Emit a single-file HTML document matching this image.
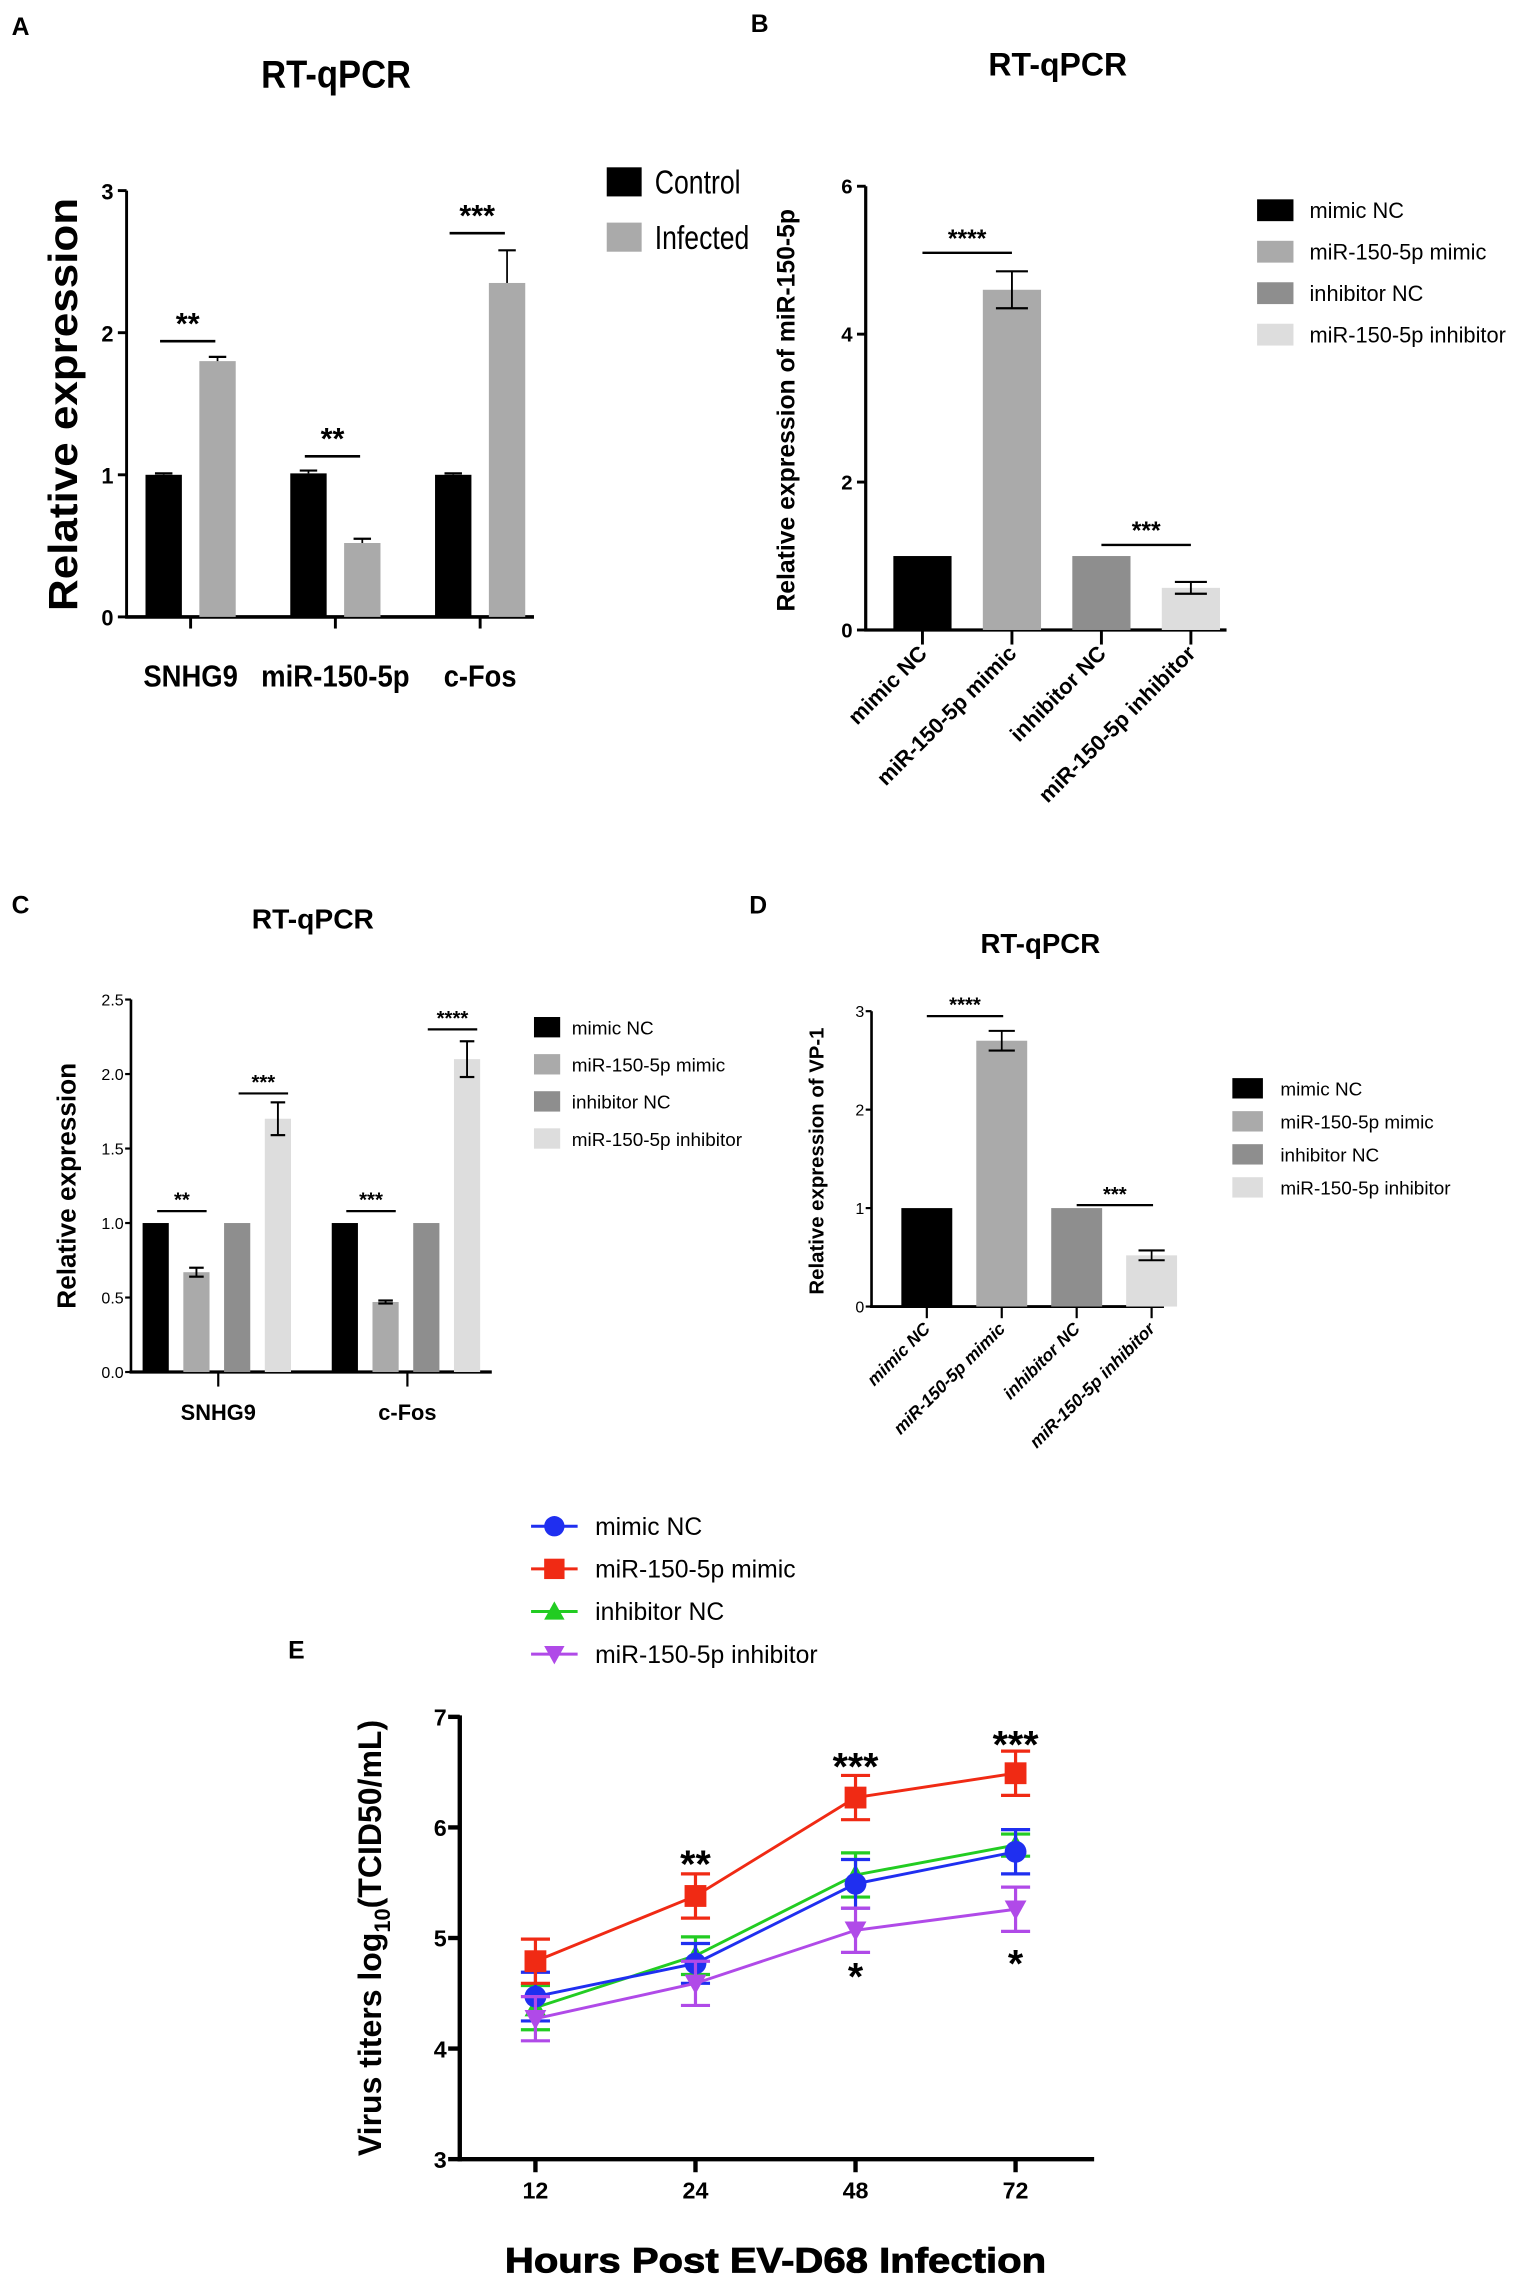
<!DOCTYPE html>
<html><head><meta charset="utf-8">
<style>
html,body{margin:0;padding:0;background:#fff;}
svg{display:block;}
text{font-family:"Liberation Sans",Arial,sans-serif;}
.n{font-family:"Liberation Sans Narrow","Liberation Sans",Arial,sans-serif;}
</style></head>
<body>
<svg id="fig" width="1535" height="2277" viewBox="0 0 1055 1565" xmlns="http://www.w3.org/2000/svg">
<rect x="0" y="0" width="1055" height="1565" fill="#fff"/>
<g id="static">
<text x="8" y="24" font-size="17" font-weight="bold">A</text>
<text x="516" y="22" font-size="17" font-weight="bold">B</text>
<text x="8" y="628" font-size="17" font-weight="bold">C</text>
<text x="515" y="628" font-size="17" font-weight="bold">D</text>
<text x="198" y="1140" font-size="17" font-weight="bold">E</text>

<text x="231" y="60" font-size="27" font-weight="bold" text-anchor="middle" textLength="103" lengthAdjust="spacingAndGlyphs">RT-qPCR</text>
<text x="727" y="52" font-size="22" font-weight="bold" text-anchor="middle">RT-qPCR</text>
<text x="215" y="638" font-size="19" font-weight="bold" text-anchor="middle" textLength="84" lengthAdjust="spacingAndGlyphs">RT-qPCR</text>
<text x="715" y="655" font-size="19" font-weight="bold" text-anchor="middle">RT-qPCR</text>

<text transform="translate(53,278) rotate(-90)" font-size="28" font-weight="bold" text-anchor="middle" textLength="284" lengthAdjust="spacingAndGlyphs">Relative expression</text>
<text transform="translate(546,282) rotate(-90)" font-size="17" font-weight="bold" text-anchor="middle">Relative expression of miR-150-5p</text>
<text transform="translate(52,815) rotate(-90)" font-size="18" font-weight="bold" text-anchor="middle">Relative expression</text>
<text transform="translate(566,798) rotate(-90)" font-size="14" font-weight="bold" text-anchor="middle">Relative expression of VP-1</text>
<text transform="translate(262,1332) rotate(-90)" font-size="22" font-weight="bold" text-anchor="middle">Virus titers log<tspan font-size="15" dy="6">10</tspan><tspan dy="-6">(TCID50/mL)</tspan></text>
<text x="533" y="1562" font-size="24" font-weight="bold" text-anchor="middle" textLength="372" lengthAdjust="spacingAndGlyphs" stroke="#000" stroke-width="0.6">Hours Post EV-D68 Infection</text>
</g>
</svg>
<script>
// ---------- DATA ----------
const catsA = ["SNHG9", "miR-150-5p", "c-Fos"];
const seriesA = ["Control", "Infected"];
const controlA = [1.0, 1.01, 1.0];
const controlErrA = [0.01, 0.02, 0.01];
const infectedA = [1.8, 0.52, 2.35];
const infectedErrA = [0.03, 0.03, 0.23];
const ticksA = [0, 1, 2, 3];
const sigA = ["**", "**", "***"];
const sigLevelA = [1.94, 1.13, 2.7];

const catsB = ["mimic NC", "miR-150-5p mimic", "inhibitor NC", "miR-150-5p inhibitor"];
const valuesB = [1.0, 4.6, 1.0, 0.57];
const errB = [0, 0.25, 0, 0.08];
const ticksB = [0, 2, 4, 6];
const sigB = ["****", "***"];
const sigLevelB = [5.1, 1.15];

const catsC = ["SNHG9", "c-Fos"];
const seriesC = ["mimic NC", "miR-150-5p mimic", "inhibitor NC", "miR-150-5p inhibitor"];
const mimicNC_C = [1.0, 1.0];
const mimic_C = [0.67, 0.47];
const mimicErr_C = [0.03, 0.01];
const inhNC_C = [1.0, 1.0];
const inh_C = [1.7, 2.1];
const inhErr_C = [0.11, 0.12];
const ticksC = ["0.0", "0.5", "1.0", "1.5", "2.0", "2.5"];
const sigC = ["**", "***", "***", "****"];
const sigLevelC = [1.08, 1.87, 1.08, 2.3];

const catsD = ["mimic NC", "miR-150-5p mimic", "inhibitor NC", "miR-150-5p inhibitor"];
const valuesD = [1.0, 2.7, 1.0, 0.52];
const errD = [0, 0.1, 0, 0.05];
const ticksD = [0, 1, 2, 3];
const sigD = ["****", "***"];
const sigLevelD = [2.95, 1.03];

const hoursE = ["12", "24", "48", "72"];
const seriesE = ["mimic NC", "miR-150-5p mimic", "inhibitor NC", "miR-150-5p inhibitor"];
const mimicNC_E = [4.47, 4.77, 5.49, 5.78];
const mimicNCErr_E = [0.22, 0.18, 0.22, 0.2];
const mimic_E = [4.79, 5.38, 6.27, 6.49];
const mimicErr_E = [0.2, 0.2, 0.2, 0.2];
const inhNC_E = [4.37, 4.84, 5.57, 5.84];
const inhNCErr_E = [0.2, 0.17, 0.2, 0.1];
const inh_E = [4.27, 4.59, 5.07, 5.26];
const inhErr_E = [0.2, 0.2, 0.2, 0.2];
const ticksE = [3, 4, 5, 6, 7];
const sigUpE = ["", "**", "***", "***"];
const sigUpLevelE = [0, 5.72, 6.6, 6.8];
const sigDownE = ["", "", "*", "*"];
const sigDownLevelE = [0, 0, 4.7, 4.82];

// ---------- HELPERS ----------
const svg = document.getElementById('fig');
const NS = "http://www.w3.org/2000/svg";
function mk(tag, attrs, txt) {
  const e = document.createElementNS(NS, tag);
  for (const k in attrs) e.setAttribute(k, attrs[k]);
  if (txt !== undefined) e.textContent = txt;
  svg.appendChild(e);
  return e;
}
function line(x1, y1, x2, y2, sw, col) {
  return mk('line', {x1: x1, y1: y1, x2: x2, y2: y2, stroke: col || '#000', 'stroke-width': sw});
}

// ---------- PANEL A ----------
(function () {
  const ax = 87, y0 = 424, yT = 131, vmax = 3, xEnd = 367;
  const yA = v => y0 - v * (y0 - yT) / vmax;
  const cx = i => 131 + i * 99.5;
  const bw = 25;
  const catLen = [65, 102, 50];
  const legLen = [59, 65];
  const ya = line(ax, yT, ax, y0 + 1, 2);
  
  
  const xa = line(ax - 1, y0, xEnd, y0, 2.5);
  
  
  ticksA.forEach(t => {
    line(ax - 6, yA(t), ax, yA(t), 2);
    const tl = mk('text', {x: ax - 9, y: yA(t) + 6, 'font-size': 15, 'font-weight': 'bold', 'text-anchor': 'end'}, String(t));
    
    
  });
  catsA.forEach((c, i) => {
    line(cx(i), y0, cx(i), y0 + 8, 2);
    const cl = mk('text', {x: cx(i), y: 472, 'font-size': 21, 'font-weight': 'bold', 'text-anchor': 'middle', textLength: catLen[i], lengthAdjust: 'spacingAndGlyphs'}, c);
    
    
    const groups = [[controlA, controlErrA, '#000', -31], [infectedA, infectedErrA, '#aaa', 6]];
    groups.forEach((g, s) => {
      const v = g[0][i], e = g[1][i];
      const bx = cx(i) + g[3];
      const r = mk('rect', {x: bx, y: yA(v), width: bw, height: y0 - yA(v), fill: g[2]});
      
      
      line(bx + bw / 2, yA(v), bx + bw / 2, yA(v + e), 1.2);
      line(bx + bw / 2 - 6, yA(v + e), bx + bw / 2 + 6, yA(v + e), 1.5);
    });
    const x1 = cx(i) - 21, x2 = cx(i) + 17;
    const sl = line(x1, yA(sigLevelA[i]), x2, yA(sigLevelA[i]), 1.8);
    
    
    const st = mk('text', {x: (x1 + x2) / 2, y: yA(sigLevelA[i]) - 5, 'font-size': 21, 'font-weight': 'bold', 'text-anchor': 'middle'}, sigA[i]);
    
    
  });
  const legCol = ['#000', '#aaa'];
  seriesA.forEach((s, i) => {
    const sw = mk('rect', {x: 417, y: 115 + i * 38, width: 24, height: 20, fill: legCol[i]});
    
    
    const lt = mk('text', {x: 450, y: 133 + i * 38, 'font-size': 23, textLength: legLen[i], lengthAdjust: 'spacingAndGlyphs'}, s);
    
    
  });
})();

// ---------- PANEL B ----------
(function () {
  const ax = 595, y0 = 433, yT = 128, vmax = 6, xEnd = 843;
  const yB = v => y0 - v * (y0 - yT) / vmax;
  const cx = i => 634 + i * 61.5;
  const bw = 40;
  const cols = ['#000', '#aaa', '#8e8e8e', '#ddd'];
  const ya = line(ax, yT, ax, y0 + 1, 2.2);
  
  
  const xa = line(ax - 1, y0, xEnd, y0, 2.2);
  
  
  ticksB.forEach(t => {
    line(ax - 6, yB(t), ax, yB(t), 2);
    const tl = mk('text', {x: ax - 9, y: yB(t) + 5, 'font-size': 14, 'font-weight': 'bold', 'text-anchor': 'end'}, String(t));
    
    
  });
  catsB.forEach((c, i) => {
    line(cx(i), y0, cx(i), y0 + 10, 2);
    const r = mk('rect', {x: cx(i) - bw / 2, y: yB(valuesB[i]), width: bw, height: y0 - yB(valuesB[i]), fill: cols[i]});
    
    
    if (errB[i] > 0) {
      const v = valuesB[i], e = errB[i];
      line(cx(i), yB(v + e), cx(i), yB(v - e), 1.3);
      line(cx(i) - 11, yB(v + e), cx(i) + 11, yB(v + e), 1.5);
      line(cx(i) - 11, yB(v - e), cx(i) + 11, yB(v - e), 1.5);
    }
    const cl = mk('text', {transform: 'translate(' + (cx(i) + 4) + ',450) rotate(-45)', 'font-size': 15, 'font-weight': 'bold', 'text-anchor': 'end'}, c);
    
    
  });
  [[0, 1], [2, 3]].forEach((p, k) => {
    const x1 = cx(p[0]), x2 = cx(p[1]);
    const sl = line(x1, yB(sigLevelB[k]), x2, yB(sigLevelB[k]), 1.6);
    
    
    const st = mk('text', {x: (x1 + x2) / 2, y: yB(sigLevelB[k]) - 4, 'font-size': 17, 'font-weight': 'bold', 'text-anchor': 'middle'}, sigB[k]);
    
    
  });
  catsB.forEach((s, i) => {
    const sw = mk('rect', {x: 864, y: 137 + i * 28.5, width: 25, height: 15, fill: cols[i]});
    
    
    const lt = mk('text', {x: 900, y: 150 + i * 28.5, 'font-size': 15}, s);
    
    
  });
})();

// ---------- PANEL C ----------
(function () {
  const ax = 90, y0 = 943, yT = 687, vmax = 2.5, xEnd = 338;
  const yC = v => y0 - v * (y0 - yT) / vmax;
  const gc = i => 150 + i * 130;
  const bx = (i, s) => gc(i) - 52 + s * 28;
  const bw = 18;
  const cols = ['#000', '#aaa', '#8e8e8e', '#ddd'];
  const vals = [mimicNC_C, mimic_C, inhNC_C, inh_C];
  const errs = [null, mimicErr_C, null, inhErr_C];
  const ya = line(ax, yT, ax, y0 + 1, 1.8);
  
  
  const xa = line(ax - 1, y0, xEnd, y0, 2.2);
  
  
  ticksC.forEach(t => {
    const v = parseFloat(t);
    line(ax - 4, yC(v), ax, yC(v), 1.5);
    const tl = mk('text', {x: ax - 5, y: yC(v) + 4, 'font-size': 11, 'text-anchor': 'end'}, t);
    
    
  });
  catsC.forEach((c, i) => {
    line(gc(i), y0, gc(i), y0 + 10, 1.5);
    const cl = mk('text', {x: gc(i), y: 976, 'font-size': 15, 'font-weight': 'bold', 'text-anchor': 'middle'}, c);
    
    
    vals.forEach((arr, s) => {
      const v = arr[i];
      const r = mk('rect', {x: bx(i, s), y: yC(v), width: bw, height: y0 - yC(v), fill: cols[s]});
      
      
      if (errs[s]) {
        const e = errs[s][i], m = bx(i, s) + bw / 2;
        line(m, yC(v + e), m, yC(v - e), 1.3);
        line(m - 5, yC(v + e), m + 5, yC(v + e), 1.5);
        line(m - 5, yC(v - e), m + 5, yC(v - e), 1.5);
      }
    });
    [[0, 1], [2, 3]].forEach((p, k) => {
      const idx = i * 2 + k;
      const x1 = bx(i, p[0]) + 10, x2 = bx(i, p[1]) + 16;
      const sl = line(x1, yC(sigLevelC[idx]), x2, yC(sigLevelC[idx]), 1.5);
      
      
      const st = mk('text', {x: (x1 + x2) / 2, y: yC(sigLevelC[idx]) - 3, 'font-size': 14, 'font-weight': 'bold', 'text-anchor': 'middle'}, sigC[idx]);
      
      
    });
  });
  seriesC.forEach((s, i) => {
    const sw = mk('rect', {x: 367, y: 699 + i * 25.5, width: 18, height: 14, fill: cols[i]});
    
    
    const lt = mk('text', {x: 393, y: 711 + i * 25.5, 'font-size': 13}, s);
    
    
  });
})();

// ---------- PANEL D ----------
(function () {
  const ax = 599, y0 = 898, yT = 695, vmax = 3, xEnd = 800;
  const yD = v => y0 - v * (y0 - yT) / vmax;
  const cx = i => 637 + i * 51.5;
  const bw = 35;
  const cols = ['#000', '#aaa', '#8e8e8e', '#ddd'];
  const ya = line(ax, yT, ax, y0 + 1, 1.8);
  
  
  const xa = line(ax - 1, y0, xEnd, y0, 2);
  
  
  ticksD.forEach(t => {
    line(ax - 4, yD(t), ax, yD(t), 1.5);
    const tl = mk('text', {x: ax - 5, y: yD(t) + 4, 'font-size': 11, 'text-anchor': 'end'}, String(t));
    
    
  });
  catsD.forEach((c, i) => {
    line(cx(i), y0, cx(i), y0 + 8, 1.5);
    const r = mk('rect', {x: cx(i) - bw / 2, y: yD(valuesD[i]), width: bw, height: y0 - yD(valuesD[i]), fill: cols[i]});
    
    
    if (errD[i] > 0) {
      const v = valuesD[i], e = errD[i];
      line(cx(i), yD(v + e), cx(i), yD(v - e), 1.2);
      line(cx(i) - 9, yD(v + e), cx(i) + 9, yD(v + e), 1.4);
      line(cx(i) - 9, yD(v - e), cx(i) + 9, yD(v - e), 1.4);
    }
    const cl = mk('text', {transform: 'translate(' + (cx(i) + 3) + ',914) rotate(-45)', 'font-size': 12, 'font-weight': 'bold', 'font-style': 'italic', 'text-anchor': 'end'}, c);
    
    
  });
  [[0, 1], [2, 3]].forEach((p, k) => {
    const x1 = cx(p[0]), x2 = cx(p[1]) + 1;
    const sl = line(x1, yD(sigLevelD[k]), x2, yD(sigLevelD[k]), 1.5);
    
    
    const st = mk('text', {x: (x1 + x2) / 2, y: yD(sigLevelD[k]) - 3, 'font-size': 14, 'font-weight': 'bold', 'text-anchor': 'middle'}, sigD[k]);
    
    
  });
  catsD.forEach((s, i) => {
    const sw = mk('rect', {x: 847, y: 741 + i * 22.7, width: 21, height: 14, fill: cols[i]});
    
    
    const lt = mk('text', {x: 880, y: 753 + i * 22.7, 'font-size': 13}, s);
    
    
  });
})();

// ---------- PANEL E ----------
(function () {
  const ax = 316, y0 = 1484, yT = 1180, vmin = 3, vmax = 7, xEnd = 752;
  const yE = v => y0 - (v - vmin) * (y0 - yT) / (vmax - vmin);
  const xE = i => 368 + i * 110;
  const ya = line(ax, yT - 1, ax, y0 + 1.5, 3);
  
  
  const xa = line(ax - 1.5, y0, xEnd, y0, 3);
  
  
  ticksE.forEach(t => {
    line(ax - 8, yE(t), ax, yE(t), 3);
    const tl = mk('text', {x: ax - 9, y: yE(t) + 6, 'font-size': 16, 'font-weight': 'bold', 'text-anchor': 'end'}, String(t));
    
    
  });
  hoursE.forEach((h, i) => {
    line(xE(i), y0, xE(i), y0 + 9, 3);
    const tl = mk('text', {x: xE(i), y: 1511, 'font-size': 16, 'font-weight': 'bold', 'text-anchor': 'middle'}, h);
    
    
  });
  const vals = [mimicNC_E, mimic_E, inhNC_E, inh_E];
  const errs = [mimicNCErr_E, mimicErr_E, inhNCErr_E, inhErr_E];
  const cols = ['#1f2ff0', '#f02a14', '#22cc22', '#b04ae8'];
  const shapes = ['circle', 'square', 'up', 'down'];
  function marker(shape, x, y, col, s) {
    if (shape === 'circle') return mk('circle', {cx: x, cy: y, r: s, fill: col});
    if (shape === 'square') return mk('rect', {x: x - s, y: y - s, width: 2 * s, height: 2 * s, fill: col});
    if (shape === 'up') return mk('polygon', {points: (x - s) + ',' + (y + s * 0.8) + ' ' + (x + s) + ',' + (y + s * 0.8) + ' ' + x + ',' + (y - s), fill: col});
    return mk('polygon', {points: (x - s) + ',' + (y - s * 0.8) + ' ' + (x + s) + ',' + (y - s * 0.8) + ' ' + x + ',' + (y + s), fill: col});
  }
  const order = [2, 0, 3, 1];
  order.forEach(s => {
    const pts = vals[s].map((v, i) => xE(i) + ',' + yE(v)).join(' ');
    const pl = mk('polyline', {points: pts, fill: 'none', stroke: cols[s], 'stroke-width': 2});
    
    
    vals[s].forEach((v, i) => {
      const e = errs[s][i], x = xE(i);
      line(x, yE(v + e), x, yE(v - e), 2.2, cols[s]);
      line(x - 10, yE(v + e), x + 10, yE(v + e), 2.2, cols[s]);
      line(x - 10, yE(v - e), x + 10, yE(v - e), 2.2, cols[s]);
      const m = marker(shapes[s], x, yE(v), cols[s], 7.5);
      
      
    });
  });
  hoursE.forEach((h, i) => {
    if (sigUpE[i]) {
      const st = mk('text', {x: xE(i), y: yE(sigUpLevelE[i]) + 13, 'font-size': 27, 'font-weight': 'bold', 'text-anchor': 'middle'}, sigUpE[i]);
      
      
    }
    if (sigDownE[i]) {
      const st = mk('text', {x: xE(i), y: yE(sigDownLevelE[i]) + 13, 'font-size': 27, 'font-weight': 'bold', 'text-anchor': 'middle'}, sigDownE[i]);
      
      
    }
  });
  seriesE.forEach((s, i) => {
    const y = 1049 + i * 29.3;
    line(365, y, 397, y, 2, cols[i]);
    const m = marker(shapes[i], 381, y, cols[i], 7);
    
    
    const lt = mk('text', {x: 409, y: y + 6, 'font-size': 17}, s);
    
    
  });
})();
</script>
</body></html>
